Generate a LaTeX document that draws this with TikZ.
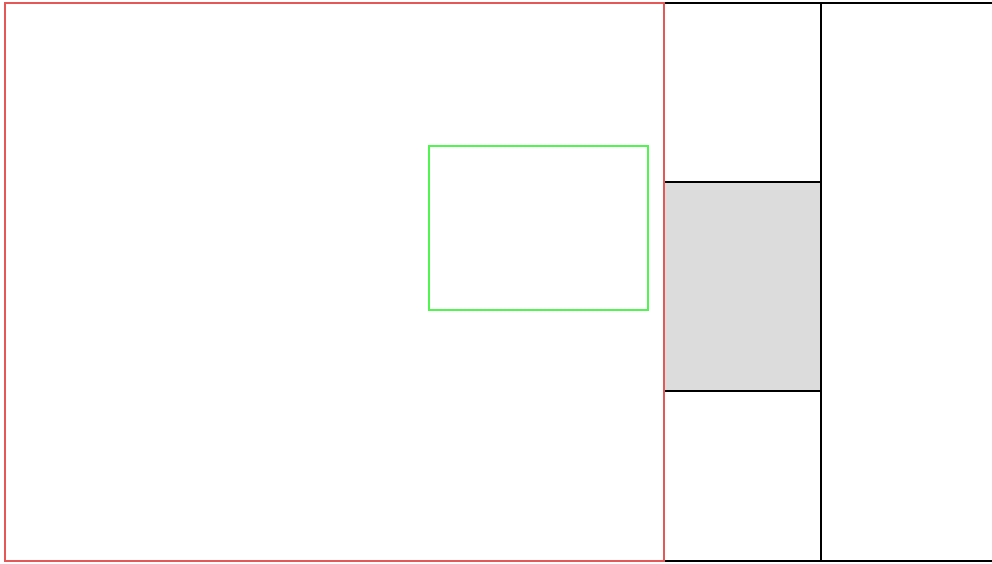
\documentclass[tikz,border=0pt]{standalone}
\definecolor{redline}{RGB}{228,88,88}
\definecolor{greenline}{RGB}{80,245,80}
\definecolor{grayfill}{RGB}{220,220,220}
\begin{document}
\begin{tikzpicture}[x=1pt,y=-1pt,line width=2.4pt]
\useasboundingbox (0,0) rectangle (992,563);
\fill[grayfill] (664,182) rectangle (821,391);
\draw[black] (664,3) -- (992,3);
\draw[black] (664,561) -- (992,561);
\draw[black] (821,3) -- (821,561);
\draw[black] (664,182) -- (821,182);
\draw[black] (664,391) -- (821,391);
\draw[greenline] (429,146) rectangle (648,310);
\draw[redline] (5,3) rectangle (664,561);
\end{tikzpicture}
\end{document}
